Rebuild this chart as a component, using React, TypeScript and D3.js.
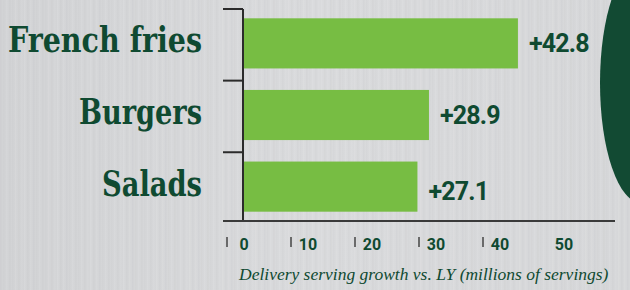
import { scaleBand, scaleLinear, range } from "d3";

const categories = ["French fries", "Burgers", "Salads"];
const growth = [42.8, 28.9, 27.1];
const valueLabels = ["+42.8", "+28.9", "+27.1"];
const tickValues = [0, 10, 20, 30, 40, 50];
const tickMarkValues = [0, 10, 20, 30, 40];
const axisTitle = "Delivery serving growth vs. LY (millions of servings)";

const W = 630;
const H = 290;
const DARK = "#0f4a31";
const BAR = "#77bd43";

// widths of the category labels in the reference (slab serif, squeezed)
const labelWidths = [194, 123, 100];

const App = () => {
  const x = scaleLinear().domain([0, 50]).range([244, 564]);
  const y = scaleBand<string>()
    .domain(categories)
    .range([9, 221])
    .paddingInner(0.3)
    .paddingOuter(0.13);

  const step = y.step();
  const boundaries = range(categories.length).map((i) => 9 + i * step);

  // brushed metal streaks
  const streaks = range(0, W, 3).map((sx, i) => ({
    sx,
    o: ((i * 37) % 11) / 11,
  }));

  return (
    <div style={{ position: "fixed", left: 0, top: 0 }}>
      <svg width={W} height={H} style={{ display: "block" }}>
        <defs>
          <linearGradient id="bg" x1="0" x2="1" y1="0" y2="0">
            <stop offset="0" stopColor="#d2d3d5" />
            <stop offset="0.5" stopColor="#d9dadc" />
            <stop offset="1" stopColor="#d6d7d9" />
          </linearGradient>
        </defs>
        <rect width={W} height={H} fill="url(#bg)" />
        {streaks.map((s) => (
          <rect
            key={s.sx}
            x={s.sx}
            y={0}
            width={1.5}
            height={H}
            fill={s.o > 0.5 ? "#ffffff" : "#b9babc"}
            opacity={0.06 + 0.1 * Math.abs(s.o - 0.5)}
          />
        ))}

        {/* dark green shape on the right */}
        <ellipse cx={641} cy={83} rx={41} ry={120} fill="#124a33" />

        {/* bars */}
        {categories.map((c, i) => (
          <rect
            key={c}
            x={x(0)}
            y={y(c)}
            width={x(growth[i]) - x(0)}
            height={y.bandwidth()}
            fill={BAR}
          />
        ))}

        {/* y axis */}
        <line x1={243} x2={243} y1={9} y2={221} stroke="#2b2b2b" strokeWidth={2} />
        {boundaries.map((b) => (
          <line key={b} x1={223} x2={243} y1={b} y2={b} stroke="#2b2b2b" strokeWidth={2} />
        ))}
        {/* x axis baseline */}
        <line x1={223} x2={615} y1={221} y2={221} stroke="#3a3a3a" strokeWidth={2} />

        {/* category labels */}
        {categories.map((c, i) => (
          <text
            key={c}
            x={202}
            y={(y(c) ?? 0) + y.bandwidth() / 2 + 9}
            textAnchor="end"
            fontFamily="'DejaVu Serif Condensed', 'DejaVu Serif', serif"
            fontWeight="bold"
            fontSize={36}
            fill={DARK}
            textLength={labelWidths[i]}
            lengthAdjust="spacingAndGlyphs"
          >
            {c}
          </text>
        ))}

        {/* value labels */}
        {categories.map((c, i) => (
          <text
            key={c}
            x={x(growth[i]) + 11}
            y={(y(c) ?? 0) + y.bandwidth() / 2 + 9 + (i === 2 ? 4 : 0)}
            fontFamily="Roboto, sans-serif"
            fontWeight="bold"
            fontSize={25}
            letterSpacing={-0.8}
            fill={DARK}
          >
            {valueLabels[i]}
          </text>
        ))}

        {/* x tick marks (offset left of labels, as in the original) */}
        {tickMarkValues.map((v) => (
          <line
            key={v}
            x1={x(v) - 17}
            x2={x(v) - 17}
            y1={237}
            y2={247}
            stroke="#444"
            strokeWidth={1.5}
          />
        ))}
        {tickValues.map((v) => (
          <text
            key={v}
            x={x(v)}
            y={250}
            textAnchor="middle"
            fontFamily="Roboto, sans-serif"
            fontWeight="bold"
            fontSize={16}
            fill={DARK}
          >
            {v}
          </text>
        ))}

        <text
          x={239}
          y={280}
          fontFamily="'Liberation Serif', serif"
          fontStyle="italic"
          fontSize={17.5}
          fill={DARK}
        >
          {axisTitle}
        </text>
      </svg>
    </div>
  );
};

export default App;
